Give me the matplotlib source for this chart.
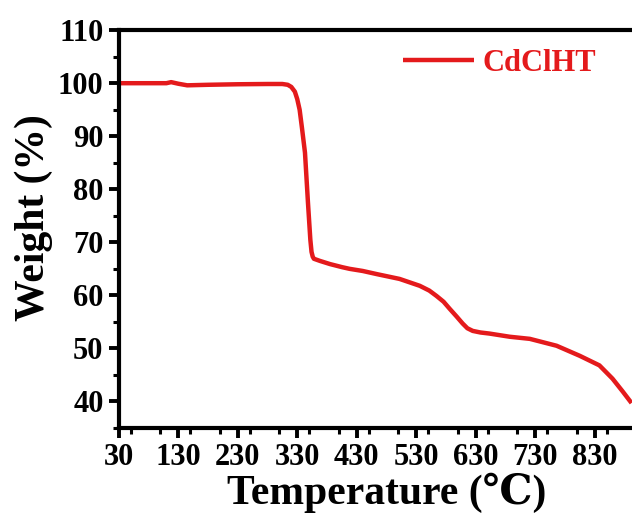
import matplotlib
matplotlib.use("Agg")
import matplotlib.pyplot as plt
from matplotlib.ticker import MultipleLocator, FixedLocator

# TGA curve
temperature = [30, 80, 110, 118, 130, 145, 180, 230, 280, 305, 314, 320, 326, 330,
               334, 338, 343, 348, 352, 354, 356, 358, 363, 368, 385, 406, 418,
               440, 464, 502, 536, 552, 564, 576, 586, 598, 608, 616, 625, 638,
               653, 687, 721, 766, 805, 838, 860, 877, 892]
weight = [100.0, 100.0, 100.0, 100.2, 99.9, 99.6, 99.7, 99.8, 99.85, 99.85, 99.7,
          99.3, 98.4, 97.0, 95.0, 91.5, 86.9, 77.5, 70.5, 68.2, 67.3, 66.9, 66.7,
          66.5, 65.9, 65.3, 65.0, 64.6, 64.0, 63.1, 61.8, 60.9, 59.9, 58.8, 57.5,
          56.0, 54.7, 53.8, 53.3, 53.0, 52.8, 52.2, 51.8, 50.5, 48.6, 46.8, 44.3,
          41.9, 39.7]
sample_name = "CdClHT"
x_ticks = [30, 130, 230, 330, 430, 530, 630, 730, 830]
y_ticks = [40, 50, 60, 70, 80, 90, 100, 110]

plt.rcParams['font.family'] = ['Liberation Serif', 'DejaVu Serif']
plt.rcParams['font.weight'] = 'bold'

RED = '#e41a1c'

fig = plt.figure(figsize=(6.32, 5.2), dpi=100)
# axes run past the right edge of the figure
ax = fig.add_axes([0.188, 0.177, 0.847, 0.765])

ax.plot(temperature, weight, color=RED, lw=3.2, label=sample_name,
        solid_joinstyle='round', solid_capstyle='butt')

ax.set_xlim(30, 930)
ax.set_ylim(35, 110)
ax.xaxis.set_major_locator(FixedLocator(x_ticks))
ax.xaxis.set_minor_locator(MultipleLocator(50))
ax.yaxis.set_major_locator(FixedLocator(y_ticks))
ax.yaxis.set_minor_locator(MultipleLocator(5))

for s in ax.spines.values():
    s.set_linewidth(3.0)

ax.tick_params(which='major', direction='out', length=7, width=2.8, labelsize=22, pad=4)
ax.tick_params(which='minor', direction='out', length=4, width=2.2)
ax.tick_params(top=False, right=False)
for lab in ax.get_xticklabels() + ax.get_yticklabels():
    lab.set_fontweight('bold')

ax.set_xlabel('Temperature (℃)', fontsize=30, fontweight='bold', labelpad=0)
ax.set_ylabel('Weight (%)', fontsize=30, fontweight='bold')
ax.yaxis.set_label_coords(-0.123, 0.53)

leg = fig.legend(loc='upper left', bbox_to_anchor=(0.613, 0.935), frameon=False,
                 handlelength=2.35, handletextpad=0.25, borderpad=0,
                 prop={'weight': 'bold', 'size': 22})
for t in leg.get_texts():
    t.set_color(RED)

fig.savefig('out.png', dpi=100)
